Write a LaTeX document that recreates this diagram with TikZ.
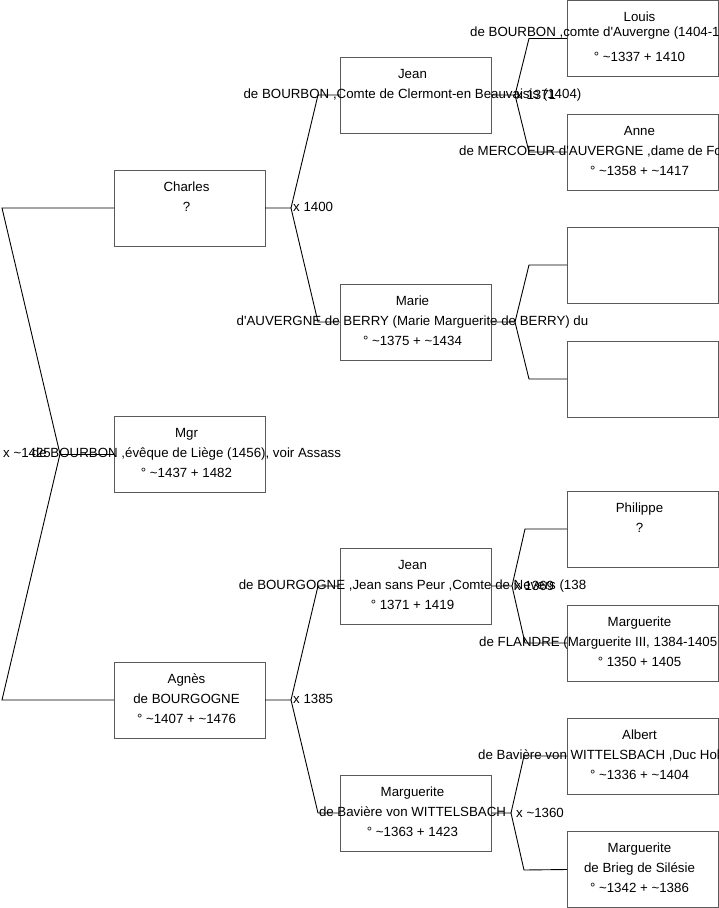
\documentclass[tikz,border=0pt]{standalone}
\usepackage{fontspec}
\setmainfont{Liberation Sans}
\definecolor{boxline}{RGB}{90,90,90}
\newcommand\tld{\textasciitilde}
\newcommand\apos{\textquotesingle}
\newcommand\famperson[6]{%
  \node[pbox] (#1) at (#2,#3) {};
  \node[txt] (#1-1) at ([xshift=-3pt,yshift=-21pt]#1.north) {#4};
  \node[txt] (#1-2) at ([xshift=-3pt,yshift=-41pt]#1.north) {#5};
  \node[txt] (#1-3) at ([xshift=-3pt,yshift=-61pt]#1.north) {#6};
}
\begin{document}
\begin{tikzpicture}[x=1pt,y=-1pt,
  pbox/.style={draw=boxline, line width=1pt, minimum width=151pt, minimum height=76pt, inner sep=0pt, outer sep=0pt, anchor=north west},
  txt/.style={font=\fontsize{13.3}{15}\selectfont, inner sep=0pt, anchor=base},
  ltxt/.style={txt, anchor=base west},
  link/.style={draw=black, line width=0.9pt}]
\useasboundingbox (0,0) rectangle (719,908);

% generation 1
\famperson{mgr}{114}{416}{Mgr}{de BOURBON ,évêque de Liège (1456), voir Assass}{° \tld1437 + 1482}
% generation 2
\famperson{charles}{114}{170}{Charles}{?}{}
\famperson{agnes}{114}{662}{Agnès}{de BOURGOGNE}{° \tld1407 + \tld1476}
% generation 3
\famperson{jeanB}{340}{57}{Jean}{de BOURBON ,Comte de Clermont-en Beauvaisis (1404)}{}
\famperson{marie}{340}{284}{Marie}{d\apos AUVERGNE de BERRY (Marie Marguerite de BERRY) du}{° \tld1375 + \tld1434}
\famperson{jeanG}{340}{548}{Jean}{de BOURGOGNE ,Jean sans Peur ,Comte de Nevers (138}{° 1371 + 1419}
\famperson{margB}{340}{775}{Marguerite}{de Bavière von WITTELSBACH}{° \tld1363 + 1423}
% generation 4
\famperson{louis}{567}{0.5}{Louis}{}{° \tld1337 + 1410}
\node[ltxt] (louis-2b) at (470,36.5) {de BOURBON ,comte d\apos Auvergne (1404-1};
\famperson{anne}{567}{114}{Anne}{}{° \tld1358 + \tld1417}
\node[ltxt] (anne-2b) at (459,155) {de MERCOEUR d\apos AUVERGNE ,dame de Fo};
\famperson{e1}{567}{227}{}{}{}
\famperson{e2}{567}{341}{}{}{}
\famperson{philippe}{567}{491}{Philippe}{?}{}
\famperson{margF}{567}{605}{Marguerite}{}{° 1350 + 1405}
\node[ltxt] (margF-2b) at (479,646) {de FLANDRE (Marguerite III, 1384-1405};
\famperson{albert}{567}{718}{Albert}{}{° \tld1336 + \tld1404}
\node[ltxt] (albert-2b) at (478,759) {de Bavière von WITTELSBACH ,Duc Hol};
\famperson{margS}{567}{831.5}{Marguerite}{de Brieg de Silésie}{° \tld1342 + \tld1386}

% junction coordinates
\coordinate (rj) at (60,454);
\coordinate (rt) at (2,208);
\coordinate (rb) at (2,700);
\coordinate (cj) at (291,208);
\coordinate (cjt) at (318,95);
\coordinate (cjb) at (318,322);
\coordinate (aj) at (291,700);
\coordinate (ajt) at (318,586);
\coordinate (ajb) at (318,813);
\coordinate (jbj) at (515,95);
\coordinate (jbt) at (529,38.5);
\coordinate (jbb) at (529,152);
\coordinate (mj) at (515,322);
\coordinate (mt) at (529,265);
\coordinate (mb) at (529,379);
\coordinate (gj) at (512,586);
\coordinate (gt) at (525,529);
\coordinate (gb) at (525,643);
\coordinate (bj) at (511,813);
\coordinate (bt) at (524,756);
\coordinate (bb) at (524,870);

% connectors
\draw[link] (charles.west) -- (rt) -- (rj) -- (rb) -- (agnes.west);
\draw[link] (rj) -- (mgr.west);
\draw[link] (charles.east) -- (cj) -- (cjt) -- (jeanB.west);
\draw[link] (cj) -- (cjb) -- (marie.west);
\draw[link] (agnes.east) -- (aj) -- (ajt) -- (jeanG.west);
\draw[link] (aj) -- (ajb) -- (margB.west);
\draw[link] (jeanB.east) -- (jbj) -- (jbt) -- (louis.west);
\draw[link] (jbj) -- (jbb) -- (anne.west);
\draw[link] (marie.east) -- (mj) -- (mt) -- (e1.west);
\draw[link] (mj) -- (mb) -- (e2.west);
\draw[link] (jeanG.east) -- (gj) -- (gt) -- (philippe.west);
\draw[link] (gj) -- (gb) -- (margF.west);
\draw[link] (margB.east) -- (bj) -- (bt) -- (albert.west);
\draw[link] (bj) -- (bb) -- (margS.west);

% marriage labels
\node[ltxt] (m1425) at (3,457) {x \tld1425};
\node[ltxt] (m1400) at (293,211.5) {x 1400};
\node[ltxt] (m1385) at (293,703.5) {x 1385};
\node[ltxt] (m1371) at (516,99) {x 1371};
\node[ltxt] (m1369) at (514,590.5) {x 1369};
\node[ltxt] (m1360) at (516,817.5) {x \tld1360};
\end{tikzpicture}
\end{document}
